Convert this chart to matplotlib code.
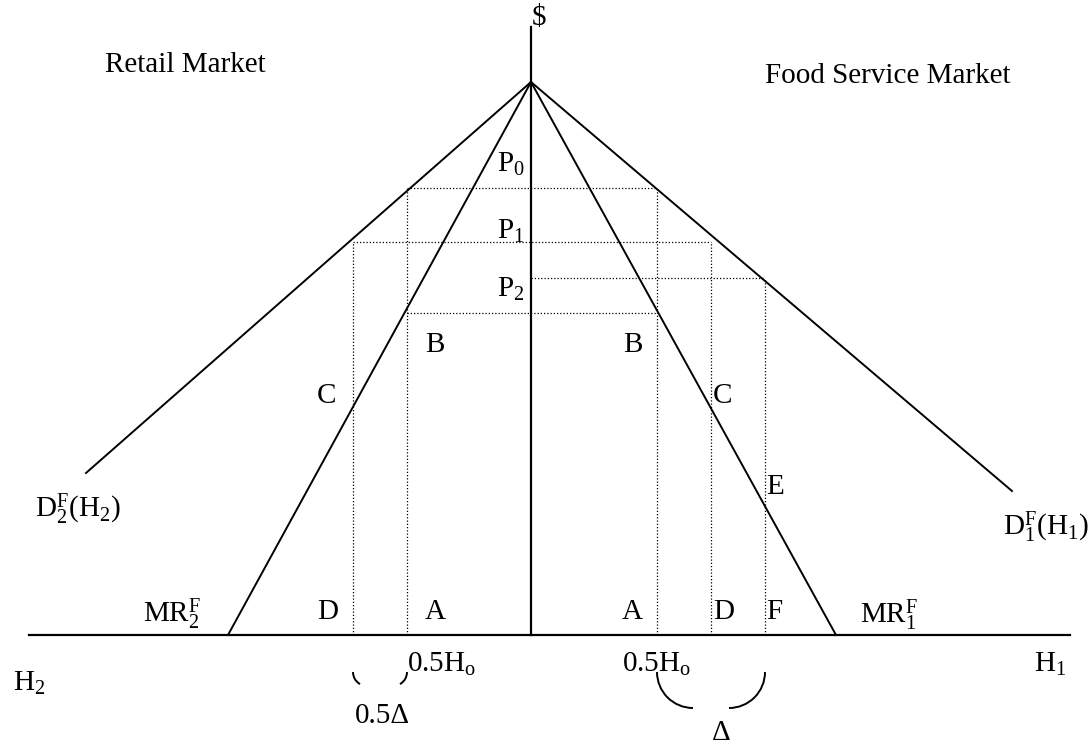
'''
Retail vs food service market diagram: demand and marginal revenue
on both sides of a shared price axis.
'''

import matplotlib
matplotlib.use('Agg')
import matplotlib.pyplot as plt
from matplotlib.patches import Arc

plt.rcParams['font.family'] = ['Liberation Serif', 'DejaVu Serif']
plt.rcParams['mathtext.fontset'] = 'custom'
plt.rcParams['mathtext.rm'] = 'Liberation Serif'
plt.rcParams['mathtext.it'] = 'Liberation Serif:italic'

# ___ data ___ (quantity: H2 to the left is negative, H1 to the right positive)
apex = (0, 553)                      # common price intercept
d1_end = (481, 144)                  # food service demand D1
d2_end = (-445, 162)                 # retail demand D2
mr1_end = (305, 0)                   # MR1 hits quantity axis
mr2_end = (-303, 0)                  # MR2 hits quantity axis
axis_h = [-502, 539]
axis_v_top = 608

prices = {'P0': 447, 'P1': 393, 'P2': 357, 'B': 322}
q_left = {'half_Ho': -124, 'D': -178}
q_right = {'half_Ho': 126, 'D': 180, 'F': 234}

# dotted guides: (q_from, q_to, price)
h_guides = [
    (q_left['half_Ho'], q_right['half_Ho'], prices['P0']),
    (q_left['D'], q_right['D'], prices['P1']),
    (0, q_right['F'], prices['P2']),
    (q_left['half_Ho'], q_right['half_Ho'], prices['B']),
]
# vertical dotted: (q, top price)
v_guides = [
    (q_left['half_Ho'], prices['P0']),
    (q_left['D'], prices['P1']),
    (q_right['half_Ho'], prices['P0']),
    (q_right['D'], prices['P1']),
    (q_right['F'], prices['P2']),
]

# text labels: (text, q, p, ha)
labels = [
    ('$', 8, 617, 'center'),
    ('Retail Market', -426, 563, 'left'),
    ('Food Service Market', 234, 552, 'left'),
    (r'$\mathrm{P}_0$', -34, 463, 'left'),
    (r'$\mathrm{P}_1$', -34, 396, 'left'),
    (r'$\mathrm{P}_2$', -34, 338, 'left'),
    ('B', -106, 283, 'left'),
    ('B', 92, 283, 'left'),
    ('C', -214, 232, 'left'),
    ('C', 182, 232, 'left'),
    ('E', 235, 141, 'left'),
    ('D', -214, 16, 'left'),
    ('A', -106, 16, 'left'),
    ('A', 91, 16, 'left'),
    ('D', 182, 16, 'left'),
    ('F', 235, 16, 'left'),
    (r'$\mathrm{MR}_2^\mathrm{F}$', -388, 13, 'left'),
    (r'$\mathrm{MR}_1^\mathrm{F}$', 329, 12, 'left'),
    (r'$\mathrm{D}_2^\mathrm{F}(\mathrm{H}_2)$', -496, 118, 'left'),
    (r'$\mathrm{D}_1^\mathrm{F}(\mathrm{H}_1)$', 472, 100, 'left'),
    (r'$\mathrm{H}_2$', -518, -56, 'left'),
    (r'$\mathrm{H}_1$', 503, -37, 'left'),
    (r'$\mathrm{0.5H}_\mathrm{o}$', -124, -37, 'left'),
    (r'$\mathrm{0.5H}_\mathrm{o}$', 91, -37, 'left'),
    ('0.5Δ', -176, -88, 'left'),
    ('Δ', 190, -105, 'center'),
]

# ___ figure ___
fig = plt.figure(figsize=(10.92, 7.48), dpi=100)
ax = fig.add_axes([0, 0, 1, 1])
ax.set_xlim(-531, 561)
ax.set_ylim(-113, 635)
ax.axis('off')

# axes
ax.plot(axis_h, [0, 0], color='black', lw=1.6)
ax.plot([0, 0], [0, axis_v_top], color='black', lw=1.6)

# demand and MR lines from the apex
for end in [d1_end, d2_end, mr1_end, mr2_end]:
    ax.plot([apex[0], end[0]], [apex[1], end[1]], color='black', lw=1.4)

dots = (0, (1, 1.6))
for q0, q1, p in h_guides:
    ax.plot([q0, q1], [p, p], color='black', lw=0.9, linestyle=dots)
for q, p in v_guides:
    ax.plot([q, q], [0, p], color='black', lw=0.9, linestyle=dots)

# braces under the quantity axis
brace_top = -37
# Delta brace (right side)
r = 36
ax.add_patch(Arc((q_right['half_Ho'] + r, brace_top), 2 * r, 2 * r,
                 theta1=180, theta2=270, color='black', lw=1.4))
ax.add_patch(Arc((q_right['F'] - r, brace_top), 2 * r, 2 * r,
                 theta1=270, theta2=360, color='black', lw=1.4))
# 0.5 Delta brace (left side)
rs = 14
ax.add_patch(Arc((q_left['D'] + rs, brace_top), 2 * rs, 2 * rs,
                 theta1=180, theta2=240, color='black', lw=1.4))
ax.add_patch(Arc((q_left['half_Ho'] - rs, brace_top), 2 * rs, 2 * rs,
                 theta1=300, theta2=360, color='black', lw=1.4))

for txt, q, p, ha in labels:
    va = 'center' if txt == '$' else 'baseline'
    if txt == '$':
        txt = r'\$'
    ax.text(q, p, txt, ha=ha, va=va, fontsize=21, color='black')

fig.savefig('out.png', dpi=100, facecolor='white')
